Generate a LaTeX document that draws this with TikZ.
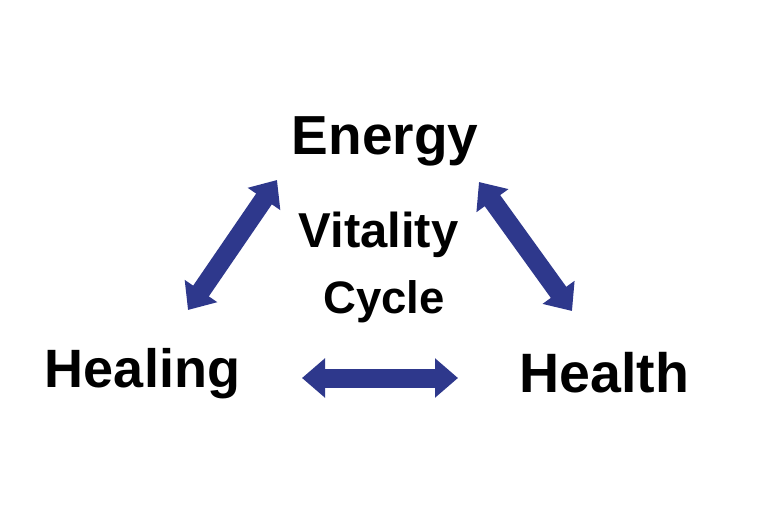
\documentclass[tikz,border=0pt]{standalone}
\usepackage{fontspec}
\setmainfont{Liberation Sans}
\usetikzlibrary{arrows.meta}
\definecolor{arrowblue}{RGB}{46,56,140}
\begin{document}
\begin{tikzpicture}[x=1pt,y=1pt,
  word/.style={anchor=base, inner sep=0pt},
  biarrow/.style={draw=arrowblue, line width=19pt, {Triangle[length=23pt,width=38pt]}-{Triangle[length=23pt,width=38pt]}}]
\useasboundingbox[fill=white] (0,0) rectangle (768,512);
\node[word, font=\bfseries\fontsize{55}{60}\selectfont] (energy) at (385,357) {Energy};
\node[word, font=\bfseries\fontsize{49}{52}\selectfont] (vitality) at (378.5,264) {Vitality};
\node[word, font=\bfseries\fontsize{45.5}{52}\selectfont] (cycle) at (384,199) {Cycle};
\node[word, font=\bfseries\fontsize{54}{60}\selectfont] (healing) at (142.5,125) {Healing};
\node[word, font=\bfseries\fontsize{55.5}{60}\selectfont] (health) at (604.5,120) {Health};
\coordinate (la) at (188,202);
\coordinate (lb) at (277,332);
\coordinate (ra) at (479,330);
\coordinate (rb) at (572,201);
\coordinate (ha) at (302,134);
\coordinate (hb) at (458,134);
\draw[biarrow] (la) -- (lb);
\draw[biarrow] (ra) -- (rb);
\draw[biarrow] (ha) -- (hb);
\end{tikzpicture}
\end{document}
